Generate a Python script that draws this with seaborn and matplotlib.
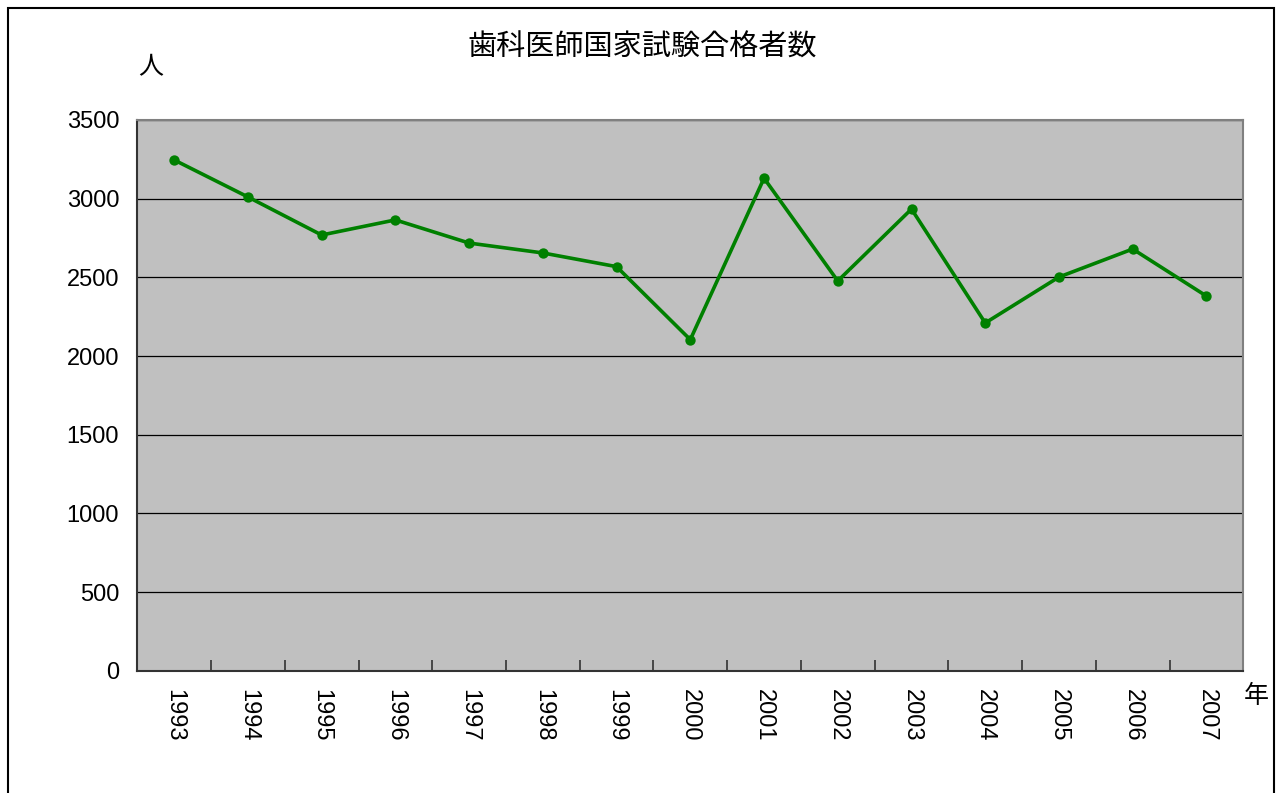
import matplotlib

matplotlib.use("Agg")
import matplotlib.pyplot as plt
import matplotlib.patches as mpatches
import pandas as pd
import seaborn as sns

years = ["1993", "1994", "1995", "1996", "1997", "1998", "1999", "2000",
         "2001", "2002", "2003", "2004", "2005", "2006", "2007"]
passers = [3246, 3011, 2769, 2865, 2718, 2655, 2568, 2104,
           3130, 2477, 2934, 2210, 2502, 2680, 2381]
y_ticks = [0, 500, 1000, 1500, 2000, 2500, 3000, 3500]

title = "歯科医師国家試験合格者数"
y_unit = "人"
x_unit = "年"

sns.set_style("white")
plt.rcParams["font.family"] = ["Liberation Sans", "Noto Sans CJK JP", "DejaVu Sans"]
plt.rcParams["text.color"] = "black"
plt.rcParams["xtick.color"] = "black"
plt.rcParams["ytick.color"] = "black"
cjk = ["Noto Sans CJK JP", "DejaVu Sans"]

df = pd.DataFrame({"year": years, "count": passers})

W, H = 1279, 793
fig = plt.figure(figsize=(W / 100, H / 100), dpi=100)
ax = fig.add_axes([137.3 / W, 1 - 670.7 / H, (1243.3 - 137.3) / W, (670.7 - 120) / H])
ax.set_facecolor("#C0C0C0")

sns.pointplot(data=df, x="year", y="count", order=years, color="#008000",
              markers="o", markersize=5.5, linewidth=2.6, ax=ax, zorder=3)

ax.set_xlim(-0.5, len(years) - 0.5)
ax.set_ylim(0, 3500)
ax.set_yticks(y_ticks)
ax.set_yticklabels([str(v) for v in y_ticks], fontsize=17, color="black")
ax.yaxis.grid(True, color="black", linewidth=0.9)
ax.set_axisbelow(True)

# category labels centred, tick marks on the bin boundaries
ax.set_xticks(range(len(years)))
ax.set_xticklabels(years, rotation=270, fontsize=17, va="top", color="black")
ax.tick_params(axis="x", which="major", bottom=True, length=0, pad=13)
ax.set_xticks([i + 0.5 for i in range(len(years) - 1)], minor=True)
ax.tick_params(axis="x", which="minor", bottom=True, direction="in",
               length=8, width=1.2, color="#333333")
ax.tick_params(axis="y", which="major", left=True, direction="in", length=0, pad=13)
ax.set_xlabel("")
ax.set_ylabel("")

for side in ("left", "bottom"):
    ax.spines[side].set_color("#333333")
    ax.spines[side].set_linewidth(1.5)
for side in ("top", "right"):
    ax.spines[side].set_visible(True)
    ax.spines[side].set_color("#808080")
    ax.spines[side].set_linewidth(1.5)

fig.text(642 / W, 1 - 48 / H, title, ha="center", va="center", fontsize=21, family=cjk)
fig.text(151 / W, 1 - 67 / H, y_unit, ha="center", va="center", fontsize=18, family=cjk)
fig.text(1256 / W, 1 - 696 / H, x_unit, ha="center", va="center", fontsize=18, family=cjk)

# outer chart-area border (bottom edge runs off the image)
border = mpatches.Rectangle((8 / W, -0.05), (1274 - 8) / W, 1.05 - 8 / H,
                            transform=fig.transFigure, fill=False,
                            edgecolor="black", linewidth=1.5, clip_on=False)
fig.patches.append(border)

fig.savefig("out.png", dpi=100)
plt.close(fig)
